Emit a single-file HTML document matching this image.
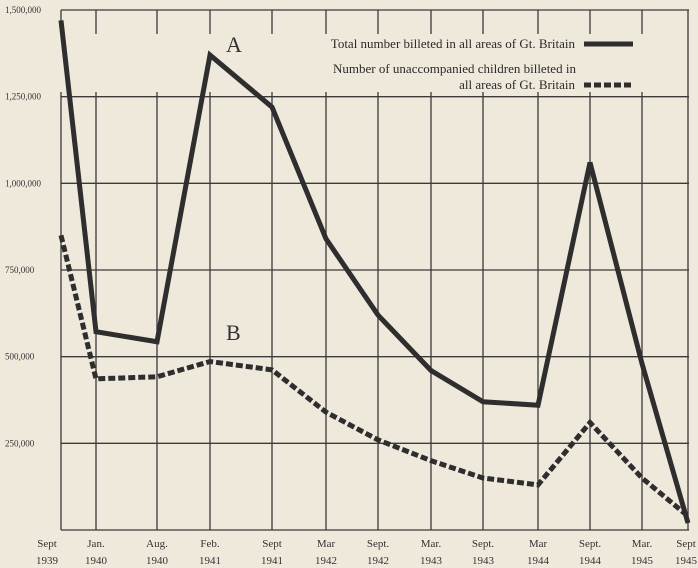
<!DOCTYPE html>
<html><head><meta charset="utf-8"><style>
body{margin:0;background:#efe9dc;}
svg{display:block;font-family:"Liberation Serif",serif;}
</style></head><body>
<svg width="698" height="568" viewBox="0 0 698 568">
<rect width="698" height="568" fill="#efe9dc"/>
<g id="grid"></g>
<g id="ylab"></g>
<g id="xlab"></g>
<rect x="28" y="34" width="615" height="58" fill="#efe9dc"/>
<g id="series"></g>
<g>
<text x="575" y="48" font-size="13" text-anchor="end" fill="#2a2a2a">Total number billeted in all areas of Gt. Britain</text>
<line x1="584" y1="44" x2="633" y2="44" stroke="#2e2e2e" stroke-width="5"/>
<text x="333" y="73" font-size="13" fill="#2a2a2a">Number of unaccompanied children billeted in</text>
<text x="575" y="89" font-size="13" text-anchor="end" fill="#2a2a2a">all areas of Gt. Britain</text>
<line x1="584" y1="85" x2="633" y2="85" stroke="#2e2e2e" stroke-width="5" stroke-dasharray="7,3"/>
</g>
<text x="226" y="52" font-size="22" fill="#333">A</text>
<text x="226" y="340" font-size="22" fill="#333">B</text>
</svg>
<script>
const categories=["Sept|1939","Jan.|1940","Aug.|1940","Feb.|1941","Sept|1941","Mar|1942","Sept.|1942","Mar.|1943","Sept.|1943","Mar|1944","Sept.|1944","Mar.|1945","Sept|1945"];
const totalBilleted=[1470000,572000,543000,1370000,1220000,840000,620000,460000,370000,360000,1060000,480000,20000];
const childrenBilleted=[850000,436000,442000,486000,462000,340000,260000,200000,150000,130000,310000,150000,40000];
const yTicks=[0,250000,500000,750000,1000000,1250000,1500000];
const yTickLabels=["","250,000","500,000","750,000","1,000,000","1,250,000","1,500,000"];
const xPos=[61,96,157,210,272,326,378,431,483,538,590,642,688];
function xs(i){return xPos[i];}
function ys(v){return 530-v*(520/1500000);}
const NS="http://www.w3.org/2000/svg";
function mk(t,a,p){const e=document.createElementNS(NS,t);for(const k in a)e.setAttribute(k,a[k]);p.appendChild(e);return e;}
const grid=document.getElementById('grid');
categories.forEach((c,i)=>{
 const l=mk('line',{x1:xs(i),x2:xs(i),y1:ys(1500000),y2:ys(0),stroke:'#3a3a3a','stroke-width':1.3},grid);
 
 
});
yTicks.forEach((v,i)=>{
 const l=mk('line',{x1:xs(0),x2:689,y1:ys(v),y2:ys(v),stroke:'#3a3a3a','stroke-width':1.3},grid);
 
 
 const t=mk('text',{x:5,y:ys(v)+3,'font-size':9,fill:'#333'},document.getElementById('ylab'));
 t.textContent=yTickLabels[i];
 
 
});
const xl=document.getElementById('xlab');
categories.forEach((c,i)=>{
 const p=c.split('|');
 const ax=i==categories.length-1?686:xs(i)-(i==0?14:0);
 const t1=mk('text',{x:ax,y:547,'font-size':11,fill:'#333','text-anchor':'middle'},xl);
 t1.textContent=p[0];
 
 
 const t2=mk('text',{x:ax,y:564,'font-size':11,fill:'#333','text-anchor':'middle'},xl);
 t2.textContent=p[1];
 
 
});
const sg=document.getElementById('series');
const p1=mk('polyline',{points:totalBilleted.map((v,i)=>xs(i)+','+ys(v)).join(' '),fill:'none',stroke:'#2e2e2e','stroke-width':5,'stroke-linejoin':'miter'},sg);


const p2=mk('polyline',{points:childrenBilleted.map((v,i)=>xs(i)+','+ys(v)).join(' '),fill:'none',stroke:'#2e2e2e','stroke-width':5,'stroke-dasharray':'7,3'},sg);


</script>
</body></html>
